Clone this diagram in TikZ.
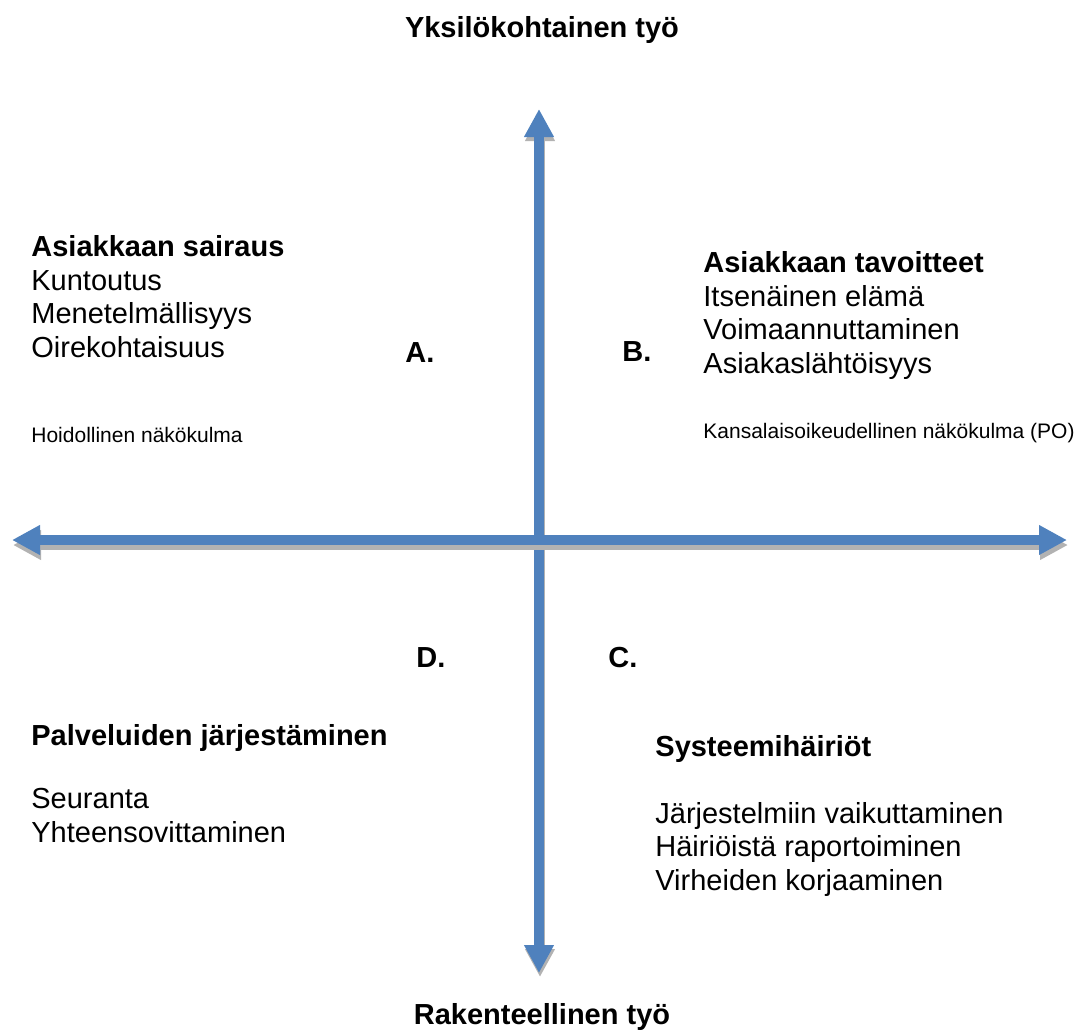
\documentclass[tikz,border=0pt]{standalone}
\usepackage{fontspec}
\setmainfont{Liberation Sans}
\usetikzlibrary{arrows.meta}
\definecolor{axisBlue}{RGB}{79,129,189}
\definecolor{axisShade}{RGB}{178,178,178}

\begin{document}
\begin{tikzpicture}[
  x=0.5pt, y=-0.5pt,
  big/.style={font=\fontsize{14.5}{16.75}\selectfont, anchor=base west, align=left, inner sep=0pt},
  hd/.style={big, font=\fontsize{14.5}{16.75}\selectfont\bfseries},
  sm/.style={font=\fontsize{10.5}{12}\selectfont, anchor=base west, inner sep=0pt},
  ax/.style={line width=5pt, draw=axisBlue, fill=axisBlue, {Triangle[width=14pt,length=14pt]}-{Triangle[width=14pt,length=14pt]}},
  shade/.style={ax, draw=axisShade, fill=axisShade}
]
\useasboundingbox (0,0) rectangle (1082,1035);
% axis ends
\coordinate (up) at (539,109);
\coordinate (down) at (539,973);
\coordinate (west) at (12,540);
\coordinate (east) at (1067,540);
\coordinate (upS) at (540,113);
\coordinate (downS) at (540,977);
\coordinate (westS) at (13,545);
\coordinate (eastS) at (1068,545);
% axes with shadow
\draw[shade] (upS) -- (downS);
\draw[ax] (up) -- (down);
\draw[shade] (westS) -- (eastS);
\draw[ax] (west) -- (east);
% axis titles
\node[hd, anchor=base] (indiv) at (542,37) {Yksilökohtainen työ};
\node[hd, anchor=base] (struct) at (542,1024) {Rakenteellinen työ};
% quadrant letters
\node[hd] (qA) at (405,362) {A.};
\node[hd] (qB) at (622,361) {B.};
\node[hd] (qD) at (416,667) {D.};
\node[hd] (qC) at (608,667) {C.};
% quadrant texts (placed by last baseline)
\node[big] (txtA) at (31,357) {\textbf{Asiakkaan sairaus}\\Kuntoutus\\Menetelmällisyys\\Oirekohtaisuus};
\node[sm] (viewA) at (31,442) {Hoidollinen näkökulma};
\node[big] (txtB) at (703,373) {\textbf{Asiakkaan tavoitteet}\\Itsenäinen elämä\\Voimaannuttaminen\\Asiakaslähtöisyys};
\node[sm] (viewB) at (703,438) {Kansalaisoikeudellinen näkökulma (PO)};
\node[big] (txtD) at (31,842) {\textbf{Palveluiden järjestäminen}\\[15pt]Seuranta\\Yhteensovittaminen};
\node[big] (txtC) at (655,890) {\textbf{Systeemihäiriöt}\\[16.75pt]Järjestelmiin vaikuttaminen\\Häiriöistä raportoiminen\\Virheiden korjaaminen};
\end{tikzpicture}
\end{document}
